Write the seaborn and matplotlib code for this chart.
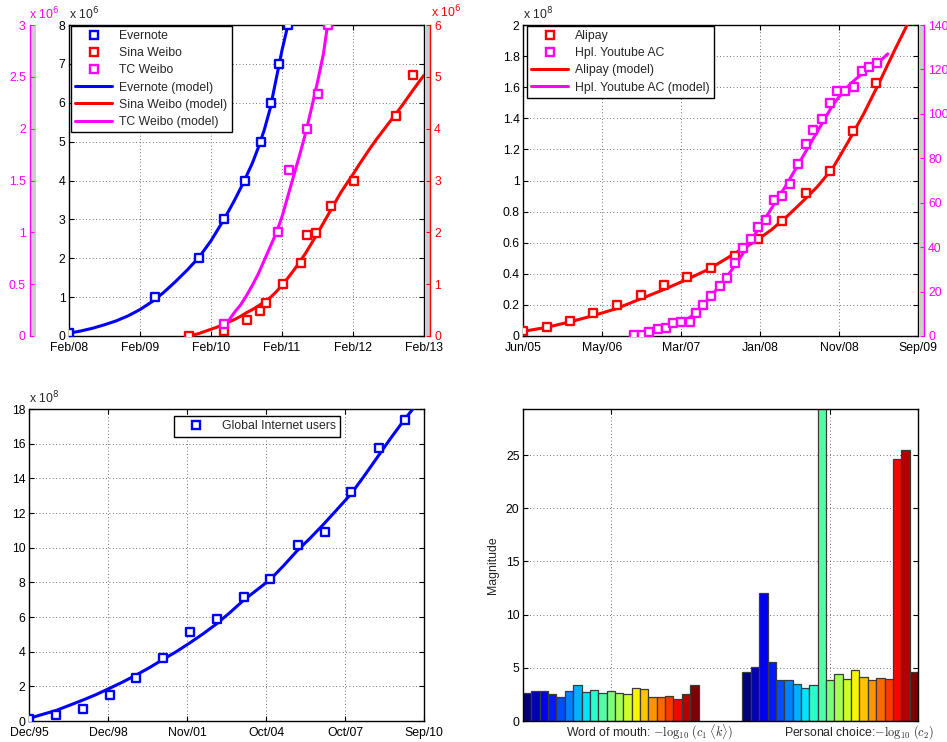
import numpy as np
import pandas as pd
import matplotlib
matplotlib.use("Agg")
import matplotlib.pyplot as plt
import seaborn as sns
from matplotlib.lines import Line2D
from matplotlib.ticker import FuncFormatter

# ------------------------------------------------------------------ data
# Top-left panel: x = months since Feb 2008
tl_tick_months = [0, 12, 24, 36, 48, 60]
tl_tick_labels = ["Feb/08", "Feb/09", "Feb/10", "Feb/11", "Feb/12", "Feb/13"]
evernote_t = [0, 14.6, 21.9, 26.2, 29.7, 32.4, 34.2, 35.5, 37.0]
evernote_users = [0.07, 1.0, 2.0, 3.0, 4.0, 5.0, 6.0, 7.0, 8.0]            # x 1e6
evernote_model_t = [0, 2, 4, 6, 8, 10, 12, 14, 16, 18, 20, 22, 24, 25, 26, 27, 28, 29, 30,
                    31, 32, 33, 34, 35, 36, 37]
evernote_model = [0.07, 0.13, 0.20, 0.29, 0.39, 0.52, 0.68, 0.88, 1.12, 1.40, 1.70, 2.03,
                  2.45, 2.70, 2.95, 3.22, 3.50, 3.80, 4.12, 4.45, 4.85, 5.30, 5.85, 6.60,
                  7.35, 8.0]
sina_t = [20.3, 26.2, 30.1, 32.2, 33.3, 36.1, 39.2, 40.2, 41.7, 44.2, 48.1, 55.2, 58.1]
sina_users = [0.0, 0.1, 0.3, 0.49, 0.63, 1.0, 1.4, 1.95, 1.99, 2.5, 3.0, 4.25, 5.04]  # x 1e6
sina_model_t = [20.3, 21, 22, 23, 24, 25, 26, 27, 28, 29, 30, 31, 32, 33, 34, 35, 36, 37, 38,
                39, 40, 41, 42, 43, 44, 45, 46, 47, 48, 49, 50, 51, 52, 53, 54, 55, 56, 57,
                58, 59, 60]
sina_model = [0.0, 0.02, 0.05, 0.09, 0.13, 0.17, 0.22, 0.27, 0.32, 0.38, 0.45, 0.51, 0.58,
              0.66, 0.74, 0.85, 0.98, 1.12, 1.27, 1.43, 1.60, 1.79, 1.98, 2.18, 2.38, 2.58,
              2.78, 2.95, 3.12, 3.30, 3.47, 3.64, 3.80, 3.95, 4.10, 4.25, 4.40, 4.56, 4.72,
              4.88, 5.03]
tc_t = [26.2, 35.3, 37.2, 40.2, 42.1, 43.7]
tc_users = [0.116, 1.0, 1.6, 2.0, 2.33, 3.0]                                  # x 1e6
tc_model_t = [26.2, 27, 28, 29, 30, 31, 32, 33, 34, 35, 36, 37, 38, 39, 40, 41, 42, 43, 43.7]
tc_model = [0.10, 0.15, 0.23, 0.30, 0.39, 0.49, 0.60, 0.73, 0.86, 0.99, 1.15, 1.35, 1.55,
            1.75, 1.96, 2.20, 2.45, 2.72, 3.0]

# Top-right panel: x = months since Jun 2005
tr_tick_months = [0, 10.2, 20.4, 30.6, 40.8, 51]
tr_tick_labels = ["Jun/05", "May/06", "Mar/07", "Jan/08", "Nov/08", "Sep/09"]
alipay_t = [0, 3.1, 6.1, 9.1, 12.1, 15.2, 18.2, 21.2, 24.3, 27.4, 30.4, 33.4, 36.5, 39.6,
            42.6, 45.6]
alipay_users = [0.032, 0.056, 0.099, 0.146, 0.20, 0.264, 0.328, 0.377, 0.435, 0.517, 0.622,
                0.742, 0.92, 1.061, 1.318, 1.63]                              # x 1e8
alipay_model_t = [0, 3, 6, 9, 12, 15, 18, 21, 24, 26, 28, 30, 32, 34, 36, 38, 40, 42, 44,
                  46, 48, 49.6]
alipay_model = [0.03, 0.055, 0.09, 0.13, 0.175, 0.235, 0.295, 0.36, 0.43, 0.49, 0.55, 0.61,
                0.68, 0.765, 0.86, 0.96, 1.08, 1.25, 1.43, 1.63, 1.84, 2.0]
yt_t = [14.3, 15.4, 16.3, 17.4, 18.4, 19.4, 20.4, 21.5, 22.4, 23.3, 24.3, 25.4, 26.4, 27.4,
        28.4, 29.5, 30.4, 31.4, 32.4, 33.5, 34.5, 35.5, 36.5, 37.5, 38.6, 39.6, 40.5, 41.6,
        42.7, 43.8, 44.7, 45.7]
yt_values = [0.45, 0.45, 2.0, 3.2, 3.5, 5.7, 6.5, 6.5, 10.2, 14.0, 18.0, 22.5, 26.3, 32.7,
             39.5, 43.5, 49.2, 52.3, 61.0, 62.8, 68.5, 77.5, 86.5, 92.8, 97.6, 104.8, 110.5,
             110.5, 112.0, 119.4, 121.3, 123.1]
yt_model_t = [14.5, 15, 16, 17, 18, 19, 20, 21, 22, 23, 24, 25, 26, 27, 28, 29, 30, 31, 32,
              33, 34, 35, 36, 37, 38, 39, 40, 41, 42, 43, 44, 45, 46, 47.1]
yt_model = [0.0, 0.3, 1.0, 1.8, 3.0, 4.2, 5.5, 7.2, 9.5, 12.8, 17.0, 21.0, 25.0, 30.0, 35.0,
            40.5, 46.0, 51.5, 57.0, 62.5, 68.0, 74.0, 80.0, 86.0, 92.0, 98.0, 104.0, 108.5,
            112.5, 115.8, 118.5, 121.2, 123.5, 127.0]

# Bottom-left panel: x = months since Dec 1995
bl_tick_months = [0, 35.4, 70.8, 106.2, 141.6, 177]
bl_tick_labels = ["Dec/95", "Dec/98", "Nov/01", "Oct/04", "Oct/07", "Sep/10"]
inet_t = [0, 12.0, 24.2, 36.1, 48.1, 60.1, 72.0, 84.2, 96.2, 108.1, 120.5, 132.5, 144.4,
          156.7, 168.6]
inet_users = [0.13, 0.37, 0.67, 1.48, 2.46, 3.62, 5.12, 5.87, 7.18, 8.18, 10.17, 10.92,
              13.19, 15.73, 17.35]                                            # x 1e8
inet_model_t = [0, 6, 12, 18, 24, 30, 36, 42, 48, 54, 60, 66, 72, 78, 84, 90, 96, 102, 108,
                114, 120, 126, 132, 138, 144, 150, 156, 162, 168, 172]
inet_model = [0.15, 0.38, 0.60, 0.90, 1.20, 1.52, 1.88, 2.25, 2.65, 3.08, 3.55, 4.00, 4.50,
              5.03, 5.60, 6.25, 6.95, 7.55, 8.15, 8.95, 9.80, 10.55, 11.35, 12.20, 13.05,
              14.10, 15.20, 16.30, 17.35, 18.0]

# Bottom-right panel: magnitudes of the two parameter groups
group_labels = [r"Word of mouth: $-\log_{10}\,(c_1\;\langle k\rangle)$",
                r"Personal choice:$-\log_{10}\,(c_2)$"]
word_of_mouth = [2.67, 2.82, 2.82, 2.51, 2.29, 2.82, 3.36, 2.70, 2.89, 2.60, 2.82, 2.63,
                 2.54, 3.10, 2.98, 2.23, 2.23, 2.38, 2.07, 2.54, 3.39]
personal_choice = [4.64, 5.11, 12.01, 5.58, 3.83, 3.89, 3.48, 3.07, 3.36, 31.0, 3.89, 4.42,
                   3.95, 4.77, 4.11, 3.86, 4.02, 3.92, 24.62, 25.50, 4.58]

# ------------------------------------------------------------------ style
sns.set_theme(style="ticks")
plt.rcParams.update({
    "font.family": ["Liberation Sans", "DejaVu Sans"],
    "font.size": 8.8,
    "xtick.labelsize": 8.8, "ytick.labelsize": 8.8,
    "xtick.direction": "in", "ytick.direction": "in",
    "xtick.major.size": 3.5, "ytick.major.size": 3.5,
    "xtick.major.width": 0.8, "ytick.major.width": 0.8,
    "xtick.major.pad": 4.5, "ytick.major.pad": 2.5,
    "xtick.color": "black", "ytick.color": "black",
    "axes.edgecolor": "black", "axes.linewidth": 1.0,
    "axes.facecolor": "white", "figure.facecolor": "white",
})

W, H = 947, 742
fig = plt.figure(figsize=(W / 100, H / 100), dpi=100)


def px_axes(l, t, r, b):
    return fig.add_axes([l / W, 1 - b / H, (r - l) / W, (b - t) / H])


GRID = dict(color="#444444", linestyle=(0, (1, 3)), linewidth=0.6)
BLUE, RED, MAG = "#0000ff", "#ff0000", "#ff00ff"
LW = 2.2
fmt_g = FuncFormatter(lambda v, p: f"{v:g}")


def main_style(ax):
    ax.tick_params(top=True, right=True, bottom=True, left=True)
    ax.grid(True, **GRID)
    ax.set_axisbelow(True)
    for s in ax.spines.values():
        s.set_color("black")
        s.set_linewidth(1.0)
    ax.set_xlabel("")
    ax.set_ylabel("")


def overlay(ax):
    tw = ax.twinx()
    tw.set_position(ax.get_position())
    tw.yaxis.set_visible(False)
    for s in tw.spines.values():
        s.set_visible(False)
    ax.tick_params(right=True)
    return tw


def strip_axis(l, r, lim, ticks, color, side):
    s = px_axes(l, 25, r, 336)
    s.set_facecolor("#cdcdcd")
    s.set_xticks([])
    s.set_ylim(*lim)
    s.set_yticks(ticks)
    s.yaxis.set_major_formatter(fmt_g)
    for k, sp in s.spines.items():
        sp.set_visible(k == side)
    s.spines[side].set_color(color)
    s.spines[side].set_linewidth(1.0)
    if side == "left":
        s.tick_params(axis="y", left=True, right=False, labelleft=True, labelright=False,
                      colors=color, direction="in", length=3, pad=3)
    else:
        s.tick_params(axis="y", left=False, right=True, labelleft=False, labelright=True,
                      colors=color, direction="in", length=3, pad=3)
    s.tick_params(axis="x", top=False, bottom=False)
    return s


def pts(ax, x, y, color, z=4):
    sns.scatterplot(x=x, y=y, marker="s", s=38, facecolor="white", edgecolor=color,
                    linewidth=1.7, ax=ax, zorder=z, legend=False)


def model(ax, x, y, color, z=3):
    sns.lineplot(x=x, y=y, color=color, linewidth=LW, ax=ax, zorder=z, legend=False)


def sq(color):
    return Line2D([], [], ls="none", marker="s", ms=6, mfc="white", mec=color, mew=1.7)


def ln(color):
    return Line2D([], [], color=color, lw=LW)


LEG = dict(frameon=True, fancybox=False, framealpha=1, edgecolor="black",
           fontsize=8.8, handlelength=3.0, borderpad=0.35, labelspacing=0.42,
           handletextpad=0.6, borderaxespad=0.0)

# ------------------------------------------------------------------ top-left
ax1 = px_axes(69, 25, 424, 336)
model(ax1, evernote_model_t, evernote_model, BLUE)
pts(ax1, evernote_t, evernote_users, BLUE)
ax1.set_xlim(0, 60)
ax1.set_ylim(0, 8)
ax1.set_xticks(tl_tick_months)
ax1.set_xticklabels(tl_tick_labels)
ax1.set_yticks(range(0, 9))
main_style(ax1)

ax1r = overlay(ax1)
model(ax1r, sina_model_t, sina_model, RED)
pts(ax1r, sina_t, sina_users, RED)
ax1r.set_ylim(0, 6)
ax1r.set_xlim(0, 60)

ax1m = overlay(ax1)
model(ax1m, tc_model_t, tc_model, MAG)
pts(ax1m, tc_t, tc_users, MAG)
ax1m.set_ylim(0, 3)
ax1m.set_xlim(0, 60)
ax1m.legend([sq(BLUE), sq(RED), sq(MAG), ln(BLUE), ln(RED), ln(MAG)],
            ["Evernote", "Sina Weibo", "TC Weibo", "Evernote (model)",
             "Sina Weibo (model)", "TC Weibo (model)"],
            loc="upper left", bbox_to_anchor=(0.006, 0.997), **LEG)

strip_axis(30, 36, (0, 3), [0, 0.5, 1, 1.5, 2, 2.5, 3], MAG, "left")
strip_axis(425, 430, (0, 6), range(0, 7), RED, "right")

fig.text(69 / W, 1 - 19 / H, r"x 10$^{6}$", fontsize=8.8, ha="left", va="baseline",
         math_fontfamily="dejavusans")
fig.text(29 / W, 1 - 19 / H, r"x 10$^{6}$", fontsize=8.8, ha="left", va="baseline",
         color=MAG, math_fontfamily="dejavusans")
fig.text(431 / W, 1 - 17 / H, r"x 10$^{6}$", fontsize=8.8, ha="left", va="baseline",
         color=RED, math_fontfamily="dejavusans")

# ------------------------------------------------------------------ top-right
ax2 = px_axes(523, 25, 918, 336)
model(ax2, alipay_model_t, alipay_model, RED)
pts(ax2, alipay_t, alipay_users, RED)
ax2.set_xlim(0, 51)
ax2.set_ylim(0, 2)
ax2.set_xticks(tr_tick_months)
ax2.set_xticklabels(tr_tick_labels)
ax2.set_yticks(np.arange(0, 2.01, 0.2))
ax2.yaxis.set_major_formatter(fmt_g)
main_style(ax2)

ax2m = overlay(ax2)
model(ax2m, yt_model_t, yt_model, MAG)
pts(ax2m, yt_t, yt_values, MAG)
ax2m.set_ylim(0, 140)
ax2m.set_xlim(0, 51)
ax2m.legend([sq(RED), sq(MAG), ln(RED), ln(MAG)],
            ["Alipay", "Hpl. Youtube AC", "Alipay (model)", "Hpl. Youtube AC (model)"],
            loc="upper left", bbox_to_anchor=(0.01, 0.997), **LEG)

strip_axis(919, 924, (0, 140), range(0, 141, 20), MAG, "right")
fig.text(523 / W, 1 - 19 / H, r"x 10$^{8}$", fontsize=8.8, ha="left", va="baseline",
         math_fontfamily="dejavusans")

# ------------------------------------------------------------------ bottom-left
ax3 = px_axes(29, 409, 424, 721)
model(ax3, inet_model_t, inet_model, BLUE)
pts(ax3, inet_t, inet_users, BLUE)
ax3.set_xlim(0, 177)
ax3.set_ylim(0, 18)
ax3.set_xticks(bl_tick_months)
ax3.set_xticklabels(bl_tick_labels)
ax3.set_yticks(range(0, 19, 2))
main_style(ax3)
ax3.legend([sq(BLUE)], ["Global Internet users"], loc="upper right",
           bbox_to_anchor=(0.788, 0.977), **LEG)
fig.text(29 / W, 1 - 403 / H, r"x 10$^{8}$", fontsize=8.8, ha="left", va="baseline",
         math_fontfamily="dejavusans")

# ------------------------------------------------------------------ bottom-right
ax4 = px_axes(523, 409, 918, 721)
n = len(word_of_mouth)
bw = 0.8 / n
positions = [g - 0.4 + (j + 0.5) * bw for g in (1, 2) for j in range(n)]
bar_df = pd.DataFrame({"pos": positions, "val": word_of_mouth + personal_choice})
sns.barplot(data=bar_df, x="pos", y="val", native_scale=True, width=1.0, errorbar=None,
            color="grey", edgecolor="#3a3a3a", linewidth=0.9, ax=ax4)
cmap = plt.get_cmap("jet")
cols = [cmap(j / (n - 1)) for j in range(n)] * 2
patches = sorted(ax4.patches, key=lambda p: p.get_x())
for p, c in zip(patches, cols):
    p.set_facecolor(c)
    p.set_edgecolor("#3a3a3a")
ax4.set_xlim(0.6, 2.4)
ax4.set_ylim(0, 29.33)
ax4.set_xticks([1, 2])
ax4.set_xticklabels(["", ""])
ax4.set_yticks(range(0, 30, 5))
main_style(ax4)
ax4.set_ylabel("Magnitude", fontsize=8.8)
ax4.yaxis.set_label_coords(-0.06, 0.5)
fig.text(650 / W, 1 - 732 / H, group_labels[0], fontsize=8.8, ha="center", va="center",
         math_fontfamily="cm")
fig.text(859 / W, 1 - 732 / H, group_labels[1], fontsize=8.8, ha="center", va="center",
         math_fontfamily="cm")

fig.savefig("out.png", dpi=100)
